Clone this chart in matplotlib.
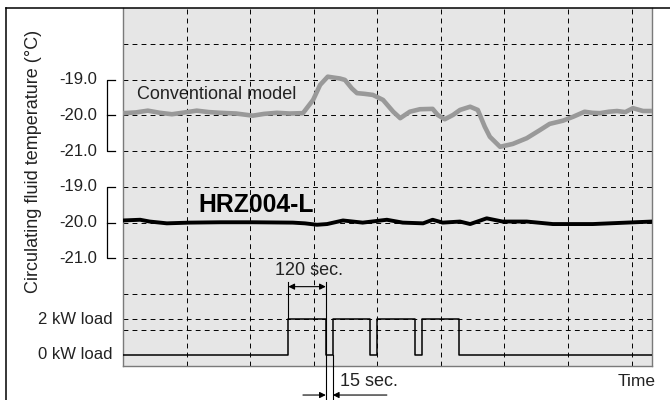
import matplotlib
matplotlib.use("Agg")
import matplotlib.pyplot as plt
from matplotlib.lines import Line2D
import matplotlib.transforms as mtransforms

plt.rcParams['font.family'] = ['Liberation Sans', 'DejaVu Sans']
plt.rcParams['lines.scale_dashes'] = False

# ---- data (x in time grid units, temperatures in degC, load in kW) ----
conv_t = [0.00, 0.20, 0.39, 0.58, 0.77, 0.97, 1.16, 1.35, 1.53, 1.78, 2.04, 2.22, 2.42, 2.62, 2.83,
          2.99, 3.10, 3.22, 3.33, 3.41, 3.49, 3.60, 3.68, 3.80, 3.93, 4.09, 4.25, 4.36, 4.51, 4.67,
          4.87, 4.95, 5.06, 5.19, 5.30, 5.46, 5.58, 5.69, 5.77, 5.93, 6.13, 6.35, 6.56, 6.71, 6.92,
          7.08, 7.26, 7.38, 7.50, 7.64, 7.77, 7.90, 8.02, 8.18, 8.32]
conv_temp = [-19.94, -19.92, -19.87, -19.93, -19.97, -19.92, -19.87, -19.91, -19.93, -19.95, -20.01, -19.96, -19.93, -19.95, -19.94,
             -19.57, -19.15, -18.92, -18.95, -18.97, -19.01, -19.25, -19.38, -19.40, -19.43, -19.57, -19.90, -20.08, -19.90, -19.83,
             -19.82, -19.99, -20.11, -19.99, -19.85, -19.76, -19.85, -20.32, -20.60, -20.88, -20.80, -20.64, -20.41, -20.24, -20.15,
             -20.04, -19.90, -19.93, -19.94, -19.90, -19.88, -19.91, -19.80, -19.88, -19.88]

hrz_t = [0.00, 0.27, 0.42, 0.69, 1.05, 1.53, 2.04, 2.67, 2.86, 3.05, 3.21, 3.46, 3.77, 4.15, 4.40,
         4.72, 4.87, 5.03, 5.30, 5.46, 5.72, 5.97, 6.35, 6.76, 7.39, 7.92, 8.32]
hrz_temp = [-19.94, -19.92, -19.97, -20.02, -20.00, -19.99, -19.99, -20.00, -20.02, -20.06, -20.04, -19.94, -20.00, -19.92, -20.00,
            -20.02, -19.92, -20.00, -19.97, -20.04, -19.88, -19.97, -19.97, -20.04, -20.04, -20.00, -19.97]

load_t = [0.00, 2.60, 3.19, 3.30, 3.88, 4.00, 4.59, 4.71, 5.28, 8.32]
load_kw = [0, 2, 0, 2, 0, 2, 0, 2, 0, 0]

temp_ticks = [-19.0, -20.0, -21.0]
load_ticks = [2, 0]
load_labels = ['2 kW load', '0 kW load']

# ---- layout mapping of the three stacked bands ----
UP_OFF = 23.0      # upper band: y = T + 23
LO_OFF = 20.0      # lower band: y = T + 20
LOAD_BASE = -3.70  # load band: y = base + kW*0.5
LOAD_SCALE = 0.5

W, H = 670, 400
fig = plt.figure(figsize=(6.7, 4.0), dpi=100)
ax = fig.add_axes([123 / W, 1 - 365.7 / H, (652 - 123) / W, (365.7 - 8) / H])
ax.set_facecolor('#e6e6e6')
ax.set_xlim(0, 8.32)
ax.set_ylim(-4.0, 6.0)
ax.set_xticks([])
ax.set_yticks([])
for s in ['left', 'right', 'bottom']:
    ax.spines[s].set_color('#7a7a7a')
    ax.spines[s].set_linewidth(1.0)
ax.spines['top'].set_visible(False)

dash = (0, (3.5, 3.0))
for gy in [-3, -2, -1, 0, 1, 2, 3, 4, 5, LOAD_BASE + 2 * LOAD_SCALE]:
    ax.axhline(gy, color='black', lw=0.7, ls=dash, zorder=1)
for gx in range(1, 9):
    ax.axvline(gx, color='black', lw=0.7, ls=dash, zorder=1)

ax.plot(conv_t, [v + UP_OFF for v in conv_temp], color='#999999', lw=3.3,
        solid_joinstyle='round', solid_capstyle='butt', zorder=3)
ax.plot(hrz_t, [v + LO_OFF for v in hrz_temp], color='black', lw=2.8,
        solid_joinstyle='round', zorder=3)
ax.plot(load_t, [LOAD_BASE + k * LOAD_SCALE for k in load_kw], color='black', lw=1.1,
        drawstyle='steps-post', zorder=3)

# text labels inside
ax.text(0.22, 3.57, 'Conventional model', fontsize=13, color='#222222', va='center', ha='left', zorder=0.5)
ax.text(1.19, 0.49, 'HRZ004-L', fontsize=17.8, fontweight='bold', color='black', va='center', ha='left', zorder=0.5)

# bracket axes on the left
trans = mtransforms.blended_transform_factory(ax.transAxes, ax.transData)
bx0 = (106.7 - 123) / 529
bx1 = (115 - 123) / 529
for off in [UP_OFF, LO_OFF]:
    ys = [t + off for t in temp_ticks]
    ax.add_line(Line2D([bx1, bx0, bx0, bx1], [ys[0], ys[0], ys[2], ys[2]], transform=trans,
                       color='black', lw=0.9, clip_on=False))
    ax.add_line(Line2D([bx0, bx1], [ys[1], ys[1]], transform=trans, color='black', lw=0.9, clip_on=False))
    for t, yv in zip(temp_ticks, ys):
        ax.text((97 - 123) / 529, yv, f'{t:.1f}', transform=trans, ha='right', va='center',
                fontsize=12, color='#222222')
for k, lab in zip(load_ticks, load_labels):
    ax.text((113 - 123) / 529, LOAD_BASE + k * LOAD_SCALE, lab, transform=trans, ha='right',
            va='center', fontsize=12, color='#222222')

# dimension annotations
y_hi = LOAD_BASE + 2 * LOAD_SCALE
ax.plot([load_t[1], load_t[1]], [y_hi, -1.65], color='black', lw=0.8, clip_on=False, zorder=3)
ax.plot([load_t[2], load_t[2]], [-1.65, -4.96], color='black', lw=0.8, clip_on=False, zorder=3)
ax.plot([load_t[3], load_t[3]], [LOAD_BASE, -4.96], color='black', lw=0.8, clip_on=False, zorder=3)
ax.annotate('', xy=(load_t[2], -1.79), xytext=(load_t[1], -1.79),
            arrowprops=dict(arrowstyle='<|-|>', color='black', lw=0.8, mutation_scale=9,
                            shrinkA=0, shrinkB=0), annotation_clip=False)
ax.text(2.92, -1.34, '120 sec.', fontsize=13, ha='center', va='center', color='#222222')
ax.annotate('', xy=(load_t[2], -4.82), xytext=(2.83, -4.82),
            arrowprops=dict(arrowstyle='-|>', color='black', lw=0.8, mutation_scale=9,
                            shrinkA=0, shrinkB=0), annotation_clip=False)
ax.annotate('', xy=(load_t[3], -4.82), xytext=(4.15, -4.82),
            arrowprops=dict(arrowstyle='-|>', color='black', lw=0.8, mutation_scale=9,
                            shrinkA=0, shrinkB=0), annotation_clip=False)
ax.text(3.41, -4.45, '15 sec.', fontsize=13, ha='left', va='center', color='#222222')

# figure-level text and frame
fig.text(656 / W, 1 - 381 / H, 'Time', fontsize=12.5, ha='right', va='center', color='#222222')
fig.text(34 / W, 1 - 161 / H, 'Circulating fluid temperature (\u00b0C)', fontsize=13,
         rotation=90, ha='center', va='center', color='#222222')
fig.add_artist(Line2D([6 / W, 6 / W], [0, 1 - 8 / H], color='black', lw=1.1))
fig.add_artist(Line2D([6 / W, 1], [1 - 8 / H, 1 - 8 / H], color='black', lw=1.1))

fig.savefig('out.png', dpi=100)
